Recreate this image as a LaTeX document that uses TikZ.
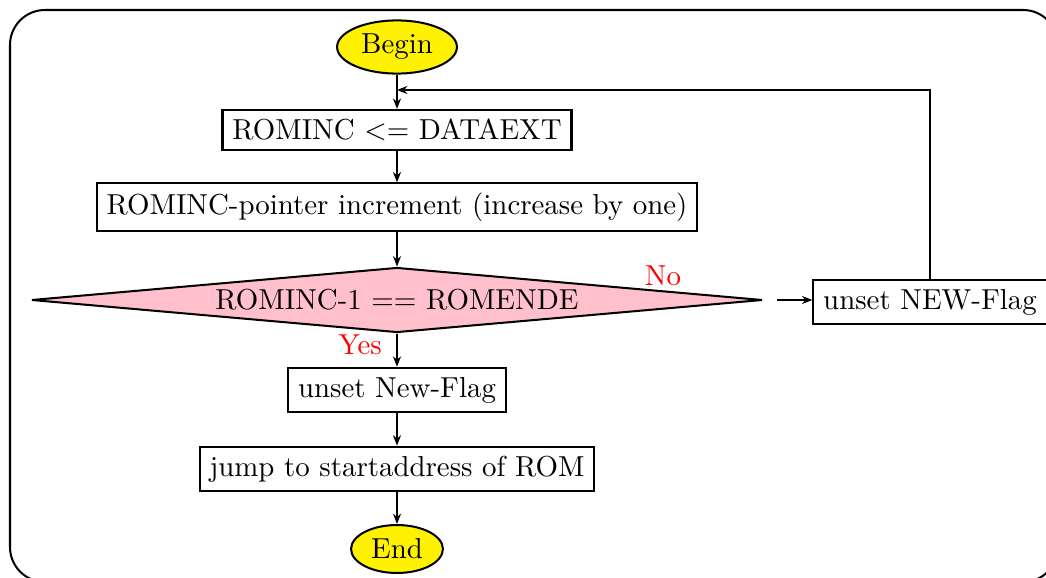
\documentclass[tikz,border=0pt]{standalone}
\usetikzlibrary{shapes.geometric,arrows.meta}
\definecolor{dpink}{RGB}{255,192,203}
\begin{document}
\begin{tikzpicture}[x=0.3462pt,y=-0.3462pt,
  box/.style={draw, line width=0.7pt, fill=white, inner xsep=3.4pt, inner ysep=3.2pt},
  term/.style={ellipse, draw, fill=yellow, line width=0.7pt, inner sep=0pt},
  dec/.style={diamond, draw, fill=dpink, aspect=11.2, inner sep=0pt, minimum width=253.1pt, minimum height=22.5pt, line width=0.7pt},
  arr/.style={-{Stealth[length=3.6pt,width=2.8pt]}, line width=0.5pt},
  lab/.style={text=red}]
\useasboundingbox (0,0) rectangle (1046,578);
\clip (0,0) rectangle (1046,578);
\draw[line width=0.7pt, rounded corners=12.1pt] (10,10) rectangle (1058,582);
\node[term, minimum width=41.5pt, minimum height=18.4pt] (begin) at (397,47) {Begin};
\node[box] (b1) at (397,130) {ROMINC \(<=\) DATAEXT};
\node[box] (b2) at (397,207) {ROMINC-pointer increment (increase by one)};
\node[dec] (d) at (397,300) {ROMINC-1 == ROMENDE};
\node[box] (nf) at (930,302) {unset NEW-Flag};
\node[box] (b3) at (397,390) {unset New-Flag};
\node[box] (b4) at (397,469) {jump to startaddress of ROM};
\node[term, minimum width=31.8pt, minimum height=16.6pt] (end) at (397,549) {End};
\node[lab] (no) at (663,276) {No};
\node[lab] (yes) at (360,345) {Yes};
\coordinate (top) at (930,90);
\coordinate (join) at (397,90);
\draw[arr] (begin) -- (b1);
\draw[arr] (b1) -- (b2);
\draw[arr] (b2) -- (d);
\draw[arr, shorten <=4.5pt] (d.east) -- (d.east -| nf.west);
\draw[arr] (d) -- (b3);
\draw[arr] (b3) -- (b4);
\draw[arr] (b4) -- (end);
\draw[arr] (nf.north) -- (top) -- (join);
\end{tikzpicture}
\end{document}
